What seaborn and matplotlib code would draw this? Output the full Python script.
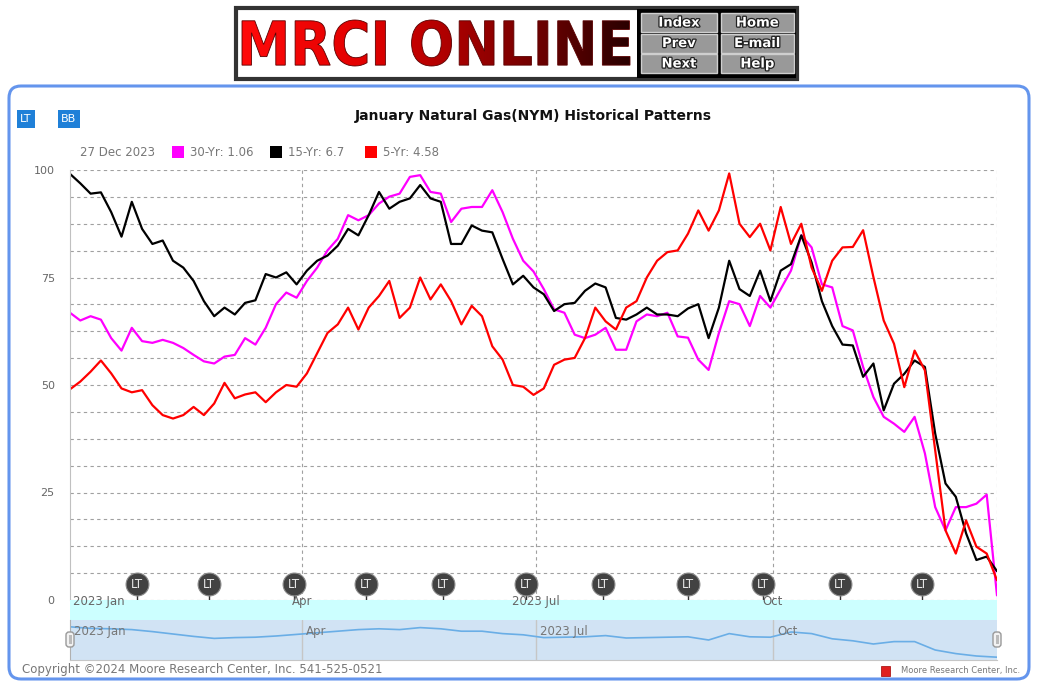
import numpy as np
import pandas as pd
import matplotlib
matplotlib.use('Agg')
import matplotlib.pyplot as plt
import matplotlib.dates as mdates
import matplotlib.patheffects as pe
from matplotlib.patches import Rectangle, FancyBboxPatch, PathPatch
from matplotlib.textpath import TextPath
from matplotlib.font_manager import FontProperties
from matplotlib.colors import LinearSegmentedColormap
from matplotlib.transforms import Affine2D
from matplotlib.ticker import MultipleLocator
import seaborn as sns

# ============================================
# DATA
# ============================================
dates = pd.date_range('2023-01-01', '2023-12-27', freq='4D')

yr30 = [66.8, 65.0, 66.0, 65.2, 60.9, 58.0, 63.3, 60.2, 59.8, 60.5, 59.8, 58.6, 57.0, 55.5, 55.0, 56.6,
        57.0, 60.9, 59.4, 63.3, 68.8, 71.5, 70.3, 74.2, 77.3, 81.3, 84.0, 89.5, 88.3, 89.5, 92.2,
        93.8, 94.5, 98.4, 98.8, 94.9, 94.5, 87.9, 91.0, 91.4, 91.4, 95.3, 90.2, 84.0, 78.9, 76.4,
        72.3, 67.6, 66.8, 61.7, 60.9, 61.7, 63.3, 58.2, 58.2, 64.8, 66.4, 66.0, 66.8, 61.3, 61.0,
        55.9, 53.5, 62.1, 69.5, 68.8, 63.7, 70.7, 68.0, 72.3, 76.6, 84.8, 82.0, 73.4, 72.7, 63.7,
        62.7, 54.2, 47.2, 42.6, 41.0, 39.1, 42.6, 34.1, 21.6, 16.2, 21.6, 21.6, 22.4, 24.5, 1.06]

yr15 = [99.1, 96.9, 94.5, 94.8, 90.2, 84.5, 92.6, 86.3, 82.8, 83.6, 78.9, 77.3, 74.2, 69.5, 66.0, 68.0,
        66.4, 69.1, 69.7, 75.8, 75.0, 76.2, 73.4, 76.6, 78.9, 80.1, 82.4, 86.3, 84.8, 89.5, 94.9,
        91.0, 92.6, 93.4, 96.5, 93.4, 92.6, 82.8, 82.8, 87.1, 85.9, 85.5, 79.3, 73.4, 75.4, 72.7,
        71.1, 67.2, 68.8, 69.1, 71.9, 73.6, 72.7, 65.6, 65.2, 66.4, 68.0, 66.4, 66.4, 66.0, 67.8,
        68.8, 60.9, 68.0, 78.9, 72.3, 70.7, 76.6, 69.5, 76.6, 78.1, 84.8, 78.5, 69.5, 63.7, 59.4,
        59.2, 51.9, 55.0, 44.1, 50.3, 52.6, 55.7, 54.2, 38.7, 27.1, 24.0, 15.5, 9.3, 10.1, 6.7]

yr5 = [49.0, 50.8, 53.1, 55.7, 52.7, 49.2, 48.3, 48.8, 45.3, 43.0, 42.2, 43.0, 44.9, 43.0, 45.7, 50.5,
       46.9, 47.8, 48.3, 46.0, 48.3, 50.0, 49.6, 52.7, 57.4, 62.1, 64.1, 68.0, 62.9, 68.0, 70.7,
       74.2, 65.6, 68.0, 75.0, 69.9, 73.4, 69.5, 64.1, 68.4, 66.0, 59.0, 55.9, 50.0, 49.6, 47.7,
       49.2, 54.7, 55.9, 56.3, 60.9, 68.0, 64.8, 62.9, 68.0, 69.5, 75.0, 78.9, 80.9, 81.3, 85.2,
       90.6, 85.9, 90.6, 99.2, 87.5, 84.4, 87.5, 81.3, 91.4, 82.8, 87.5, 77.3, 71.9, 78.9, 82.0,
       82.1, 86.0, 75.1, 65.0, 59.6, 49.5, 58.0, 53.4, 34.8, 16.2, 10.8, 18.5, 12.4, 10.8, 4.58]

series_names = ['30-Yr', '15-Yr', '5-Yr']
series_colors = ['#ff00ff', '#000000', '#ff0000']
last_values = ['1.06', '6.7', '4.58']
legend_date = '27 Dec 2023'

# navigator strip
nav_dates = pd.date_range('2023-01-01', '2023-12-27', freq='8D')
nav_values = [83, 79, 78, 76, 71, 65, 59, 54, 56, 57, 60, 64, 68, 72, 76, 78, 76, 81, 78, 72,
              72, 66, 63, 56, 57, 58, 61, 55, 56, 57, 58, 50, 66, 58, 57, 70, 66, 53, 48, 40,
              46, 46, 25, 16, 10, 7]

lt_dates = ['2023-01-27', '2023-02-24', '2023-03-29', '2023-04-26', '2023-05-26', '2023-06-27',
            '2023-07-27', '2023-08-29', '2023-09-27', '2023-10-27', '2023-11-28']

month_ticks = ['2023-01-01', '2023-04-01', '2023-07-01', '2023-10-01']
month_labels = ['2023 Jan', 'Apr', '2023 Jul', 'Oct']
y_ticks = [0, 25, 50, 75, 100]

title = 'January Natural Gas(NYM) Historical Patterns'
copyright_text = 'Copyright \u00a92024 Moore Research Center, Inc. 541-525-0521'
menu = [['Index', 'Home'], ['Prev', 'E-mail'], ['Next', 'Help']]

# ============================================
# FIGURE SETUP
# ============================================
sns.set_style('white')
plt.rcParams['font.family'] = ['DejaVu Sans']

W, H = 1039, 683
fig = plt.figure(figsize=(W / 100, H / 100), dpi=100)


def rect(x0, y0, x1, y1):
    return [x0 / W, 1 - y1 / H, (x1 - x0) / W, (y1 - y0) / H]


bg = fig.add_axes([0, 0, 1, 1])
bg.set_xlim(0, W)
bg.set_ylim(H, 0)
bg.axis('off')

# outer rounded frame
bg.add_patch(FancyBboxPatch((9, 86), 1020, 593, boxstyle='round,pad=0,rounding_size=12',
                            fill=False, edgecolor='#6495ed', lw=2.2))

# header logo
bg.add_patch(Rectangle((236, 8), 561, 71, facecolor='white', edgecolor='#333333', lw=3))
bg.add_patch(Rectangle((637, 9), 159, 69, facecolor='black', edgecolor='none'))
for r, row in enumerate(menu):
    for c, lab in enumerate(row):
        bx = 641 + c * 80
        by = 13 + r * 20.5
        bw = 76 if c == 0 else 73
        bg.add_patch(Rectangle((bx, by), bw, 19, facecolor='#999999', edgecolor='#cfcfcf', lw=1))
        bg.text(bx + bw / 2, by + 10, lab, ha='center', va='center', color='white',
                fontsize=9.5, fontweight='bold',
                path_effects=[pe.withStroke(linewidth=1.8, foreground='#222222')])

tp = TextPath((0, 0), 'MRCI ONLINE', size=1, prop=FontProperties(family='DejaVu Sans', weight='bold'))
ext = tp.get_extents()
tx0, tx1, ty0, ty1 = 242, 630, 20, 66
tr = (Affine2D().translate(-ext.x0, -ext.y0)
      .scale((tx1 - tx0) / ext.width, -(ty1 - ty0) / ext.height)
      .translate(tx0, ty1))
logo_path = tr.transform_path(tp)
clip = PathPatch(logo_path, facecolor='none', edgecolor='none', transform=bg.transData)
bg.add_patch(clip)
grad = LinearSegmentedColormap.from_list('logo', ['#ff0a0a', '#e00000', '#8a0000', '#2a0000'])
img = bg.imshow(np.linspace(0, 1, 256).reshape(1, -1), cmap=grad, aspect='auto',
                extent=(tx0, tx1, ty1, ty0), zorder=3)
img.set_clip_path(clip)
bg.add_patch(PathPatch(logo_path, facecolor='none', edgecolor='#5a0000', lw=0.6, zorder=4))
bg.set_xlim(0, W)
bg.set_ylim(H, 0)

# LT / BB buttons
bg.add_patch(Rectangle((17, 110), 18, 18, facecolor='#1f80d8', edgecolor='none'))
bg.text(26, 119.5, 'LT', ha='center', va='center', color='white', fontsize=8)
bg.add_patch(Rectangle((58, 110), 22, 18, facecolor='#1f80d8', edgecolor='none'))
bg.text(69, 119.5, 'BB', ha='center', va='center', color='white', fontsize=8)

# title
bg.text(533, 116, title, ha='center', va='center', fontsize=10, fontweight='bold', color='#111111')

# legend row
bg.text(80, 152, legend_date, ha='left', va='center', fontsize=8.5, color='#777777')
lx = 172
for name, col, val in zip(series_names, series_colors, last_values):
    bg.add_patch(Rectangle((lx, 146), 12, 12, facecolor=col, edgecolor='none'))
    bg.text(lx + 18, 152, f'{name}: {val}', ha='left', va='center', fontsize=8.5, color='#777777')
    lx += 98 if name == '30-Yr' else 95

# copyright
bg.text(22, 670, copyright_text, ha='left', va='center', fontsize=8.5, color='#777777')
bg.add_patch(Rectangle((881, 666), 9, 10, facecolor='#e02020', edgecolor='#a00000', lw=0.5))
bg.text(1020, 671, 'Moore Research Center, Inc.', ha='right', va='center', fontsize=6, color='#777777')

# ============================================
# MAIN PLOT
# ============================================
ax = fig.add_axes(rect(70, 170, 997, 600))
n = len(dates)
df = pd.DataFrame({
    'date': np.tile(dates, 3),
    'value': yr30 + yr15 + yr5,
    'series': np.repeat(series_names, n),
})
sns.lineplot(data=df, x='date', y='value', hue='series', hue_order=series_names,
             palette=dict(zip(series_names, series_colors)), linewidth=1.6,
             legend=False, ax=ax)

x_start = pd.Timestamp('2023-01-01')
x_end = pd.Timestamp('2023-12-27')
ax.set_xlim(x_start, x_end)
ax.set_ylim(0, 100)
ax.set_xlabel('')
ax.set_ylabel('')

grid_style = dict(color='#a0a0a0', linestyle=(0, (3, 3)), linewidth=0.8)
ax.set_yticks(y_ticks)
ax.set_yticklabels([str(v) for v in y_ticks])
ax.yaxis.set_minor_locator(MultipleLocator(6.25))
ax.grid(axis='y', which='both', **grid_style)
vlines = [pd.Timestamp(d) for d in month_ticks[1:]] + [x_end]
ax.set_xticks(vlines)
ax.set_xticklabels([])
ax.grid(axis='x', which='major', **grid_style)
ax.tick_params(axis='x', length=0)
ax.tick_params(axis='y', which='major', length=8, color='#c0c0c0', labelcolor='#666666',
               labelsize=8, pad=3)
ax.tick_params(axis='y', which='minor', length=0)
for s in ['top', 'right', 'bottom']:
    ax.spines[s].set_visible(False)
ax.spines['left'].set_color('#c0c0c0')

# LT flags
lt = [mdates.date2num(pd.Timestamp(d)) for d in lt_dates]
ax.vlines(lt, 0, 1.5, color='#333333', lw=1, zorder=5)
ax.scatter(lt, [3.7] * len(lt), s=270, color='#424242', edgecolor='#8a8a8a', lw=0.8,
           zorder=6, clip_on=False)
for d in lt:
    ax.text(d, 3.7, 'LT', ha='center', va='center', color='#e8e8e8', fontsize=8.5, zorder=7)

# ============================================
# X AXIS BAND AND NAVIGATOR
# ============================================
band = fig.add_axes(rect(70, 600, 997, 620))
band.set_facecolor('#ccffff')
band.set_xlim(mdates.date2num(x_start), mdates.date2num(x_end))
band.set_ylim(0, 1)
band.set_xticks([])
band.set_yticks([])
for s in band.spines.values():
    s.set_visible(False)
for i, (d, lab) in enumerate(zip(month_ticks, month_labels)):
    xd = mdates.date2num(pd.Timestamp(d))
    if i == 0:
        band.text(xd + 1.2, 0.93, lab, ha='left', va='center', fontsize=8.5, color='#666666', clip_on=False)
    else:
        band.text(xd, 0.93, lab, ha='center', va='center', fontsize=8.5, color='#666666', clip_on=False)

nav = fig.add_axes(rect(70, 620, 997, 660))
nav.set_facecolor('#d1e3f4')
sns.lineplot(x=nav_dates, y=nav_values, color='#6aaee6', linewidth=1.2, ax=nav)
nav.set_xlim(x_start, x_end)
nav.set_ylim(0, 100)
nav.set_xticks([])
nav.set_yticks([])
nav.set_xlabel('')
nav.set_ylabel('')
for d in month_ticks[1:]:
    nav.axvline(pd.Timestamp(d), color='#c6c6c6', lw=1, zorder=0.5)
for s in ['top', 'right']:
    nav.spines[s].set_visible(False)
nav.spines['left'].set_color('#b0b0b0')
nav.spines['bottom'].set_color('#c6c6c6')
for d, lab in zip(month_ticks, month_labels):
    xd = mdates.date2num(pd.Timestamp(d))
    nav.text(xd + 1.6, 0.71, lab, transform=nav.get_xaxis_transform(), ha='left', va='center',
             fontsize=8.5, color='#777777')

# navigator handles (drawn on top)
top = fig.add_axes([0, 0, 1, 1], zorder=10)
top.set_xlim(0, W)
top.set_ylim(H, 0)
top.axis('off')
for hx in [70, 997]:
    top.add_patch(FancyBboxPatch((hx - 4, 632), 8, 15, boxstyle='round,pad=0,rounding_size=3',
                                 facecolor='#f2f2f2', edgecolor='#999999', lw=1))
    top.add_patch(Rectangle((hx - 1.5, 635), 3, 9, facecolor='#bbbbbb', edgecolor='none'))

plt.savefig('out.png', dpi=100)
